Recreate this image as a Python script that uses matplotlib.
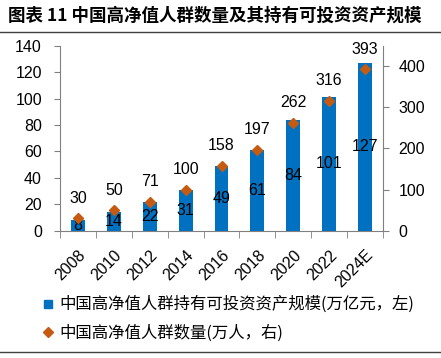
import matplotlib
matplotlib.use("Agg")
import matplotlib.pyplot as plt
from matplotlib.lines import Line2D
import matplotlib.transforms as mtrans
import numpy as np

plt.rcParams['font.family'] = ['Noto Sans CJK SC', 'DejaVu Sans']

years = ["2008", "2010", "2012", "2014", "2016", "2018", "2020", "2022", "2024E"]
assets = [8, 14, 22, 31, 49, 61, 84, 101, 127]       # 万亿元, left
people = [30, 50, 71, 100, 158, 197, 262, 316, 393]  # 万人, right

title = "图表 11 中国高净值人群数量及其持有可投资资产规模"
label_assets = "中国高净值人群持有可投资资产规模(万亿元，左)"
label_people = "中国高净值人群数量(万人，右)"

BLUE = "#0070C0"
ORANGE = "#C55A11"
GRAY = "#808080"
NUM = 'Liberation Sans'
FS = 11.5

fig = plt.figure(figsize=(4.41, 3.58), dpi=100)
ax = fig.add_axes([60/441, 1-230.7/358, (383-60)/441, (230.7-45.7)/358])
ax2 = ax.twinx()

x = np.arange(len(years))
ax.bar(x, assets, width=0.39, color=BLUE, zorder=2)
for xi, v in zip(x, assets):
    ax.text(xi, v/2, str(v), ha='center', va='center', fontsize=FS,
            family=NUM, color='black', zorder=5)

ax2.plot(x, people, linestyle='none', marker='D', markersize=5.5,
         color=ORANGE, zorder=4)
for xi, v in zip(x, people):
    ax2.annotate(str(v), (xi, v), xytext=(0, 9), textcoords='offset points',
                 ha='center', va='bottom', fontsize=FS, family=NUM)

ax.set_xlim(-0.5, len(years)-0.5)
ax.set_ylim(0, 140)
ax.set_yticks(range(0, 141, 20))
ax2.set_ylim(0, 450)
ax2.set_yticks(range(0, 401, 100))

ax.set_xticks(x)
ax.set_xticklabels(years, rotation=45, ha='right', rotation_mode='anchor',
                   family=NUM, fontsize=FS)
shift = mtrans.ScaledTranslation(-3/100, 0, fig.dpi_scale_trans)
for t in ax.get_xticklabels():
    t.set_transform(t.get_transform() + shift)
ax.set_xticks(np.arange(-0.5, len(years)), minor=True)
ax.tick_params(axis='x', which='major', length=0, pad=12)
ax.tick_params(axis='x', which='minor', length=5, color=GRAY, direction='out')
ax.tick_params(axis='y', length=4, color=GRAY, direction='out', labelsize=FS, pad=9)
ax2.tick_params(axis='y', length=4, color=GRAY, direction='out', labelsize=FS, pad=7)
for t in ax.get_yticklabels() + ax2.get_yticklabels():
    t.set_family(NUM)

for a in (ax, ax2):
    a.spines['top'].set_visible(False)
    for s in ('left', 'right', 'bottom'):
        a.spines[s].set_color(GRAY)
ax.spines['right'].set_visible(False)
ax2.spines['left'].set_visible(False)
ax2.spines['bottom'].set_visible(False)

fig.text(8/441, 1-16/358, title, fontsize=12.6, fontweight='bold', va='center', ha='left')
fig.add_artist(Line2D([0, 1], [1-32/358, 1-32/358], color='#404040', lw=1))
fig.add_artist(Line2D([0, 1], [1-352/358, 1-352/358], color='#404040', lw=1))

handles = [Line2D([], [], linestyle='none', marker='s', markersize=6, color=BLUE),
           Line2D([], [], linestyle='none', marker='D', markersize=5, color=ORANGE)]
fig.legend(handles, [label_assets, label_people], loc='upper left',
           bbox_to_anchor=(42/441, 1-296/358), frameon=False, fontsize=11.8,
           handlelength=0.7, handletextpad=0.35, labelspacing=0.7,
           borderaxespad=0, borderpad=0)

fig.savefig("out.png", dpi=100)
